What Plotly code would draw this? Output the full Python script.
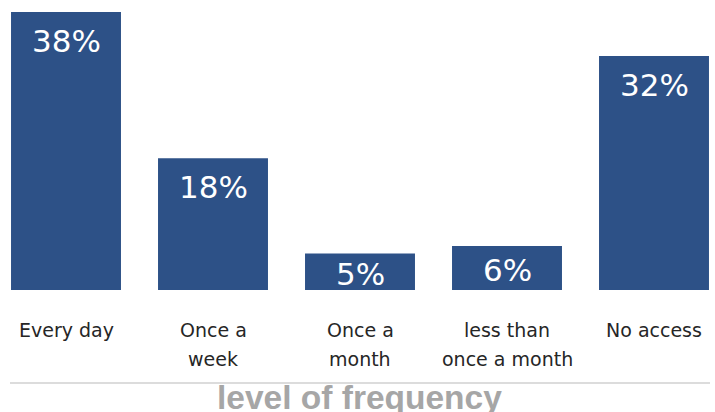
import plotly.graph_objects as go

categories = ["Every day", "Once a\nweek", "Once a\nmonth", "less than\nonce a month", "No access"]
values = [38, 18, 5, 6, 32]
value_labels = ["38%", "18%", "5%", "6%", "32%"]
axis_title = "level of frequency"

W, H = 715, 412
plot_h = 290
px_per_unit = 7.316
y_max = plot_h / px_per_unit
x_lo = -66 / 147
x_hi = x_lo + W / 147

bar_color = "#2D5187"
fig = go.Figure(go.Bar(
    x=list(range(len(categories))), y=values, width=0.748,
    marker=dict(color=bar_color, line=dict(width=0)),
    hoverinfo="skip",
))

anns = []
for i, (v, lab) in enumerate(zip(values, value_labels)):
    bar_px = v * px_per_unit
    off = min(29, 0.55 * bar_px)
    anns.append(dict(x=i, y=v, xref="x", yref="y", text=lab, showarrow=False,
                     yanchor="middle", yshift=-off,
                     font=dict(family="DejaVu Sans", size=31, color="white")))
    for j, line in enumerate(categories[i].split("\n")):
        anns.append(dict(x=i, y=0, xref="x", yref="y", text=line, showarrow=False,
                         yanchor="middle", yshift=-(39.5 + 29 * j),
                         font=dict(family="DejaVu Sans", size=19, color="#262626")))

anns.append(dict(x=(0 + len(categories) - 1) / 2, y=0, xref="x", yref="y", text="<b>%s</b>" % axis_title,
                 showarrow=False, yanchor="middle", yshift=-107, xshift=-1,
                 font=dict(family="Liberation Sans", size=33.5, color="#A6A6A6")))

fig.update_layout(
    width=W, height=H,
    margin=dict(l=0, r=0, t=0, b=H - plot_h, pad=0),
    paper_bgcolor="white", plot_bgcolor="white",
    showlegend=False,
    xaxis=dict(range=[x_lo, x_hi], showticklabels=False, showgrid=False, zeroline=False,
               showline=False, ticks=""),
    yaxis=dict(range=[0, y_max], showticklabels=False, showgrid=False, zeroline=False,
               showline=False, ticks=""),
    annotations=anns,
    shapes=[dict(type="line", xref="paper", yref="paper", x0=10 / W, x1=710 / W,
                 y0=-(383 - plot_h) / plot_h, y1=-(383 - plot_h) / plot_h,
                 line=dict(color="#DCDCDC", width=2))],
)

fig.write_html("out.html", config={"displayModeBar": False},
               post_script="document.body.style.margin='0';document.body.style.overflow='hidden';")
